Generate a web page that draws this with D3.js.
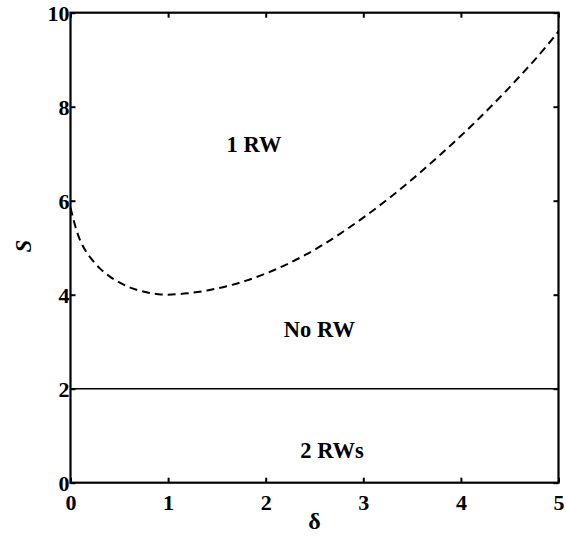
<!DOCTYPE html>
<html><head><meta charset="utf-8">
<script src="https://cdn.jsdelivr.net/npm/d3@7/dist/d3.min.js"></script>
<style>body{margin:0;background:#fff}svg{display:block}
svg text{font-family:"Liberation Serif","DejaVu Serif","Times New Roman",serif !important;}</style>
</head><body>
<script>
const delta = [0, 0.05, 0.1, 0.15, 0.2, 0.3, 0.4, 0.5, 0.6, 0.7, 0.8, 0.9, 1.0, 1.2, 1.4, 1.6, 1.8, 2.0, 2.2, 2.4, 2.6, 2.8, 3.0, 3.2, 3.4, 3.6, 3.8, 4.0, 4.2, 4.4, 4.6, 4.8, 5.0];
const boundaryS = [5.85, 5.45, 5.15, 4.95, 4.8, 4.56, 4.39, 4.26, 4.16, 4.09, 4.04, 4.01, 4.0, 4.03, 4.09, 4.18, 4.3, 4.45, 4.63, 4.84, 5.08, 5.35, 5.64, 5.95, 6.28, 6.63, 7.0, 7.38, 7.78, 8.2, 8.64, 9.1, 9.6];
const lowerDelta = [0, 5];
const lowerS = [2, 2];
const xTicks = [0, 1, 2, 3, 4, 5];
const yTicks = [0, 2, 4, 6, 8, 10];
const regionLabels = ["1 RW", "No RW", "2 RWs"];
const regionX = [1.88, 2.55, 2.68];
const regionY = [7.04, 3.1, 0.52];

const W = 566, H = 537;
const m = {l: 70.5, r: 558.5, t: 12.7, b: 482.7};
const svg = d3.select("body").append("svg").attr("width", W).attr("height", H);
const x = d3.scaleLinear().domain([0, 5]).range([m.l, m.r]);
const y = d3.scaleLinear().domain([0, 10]).range([m.b, m.t]);

// lower boundary line
svg.append("path")
  .datum(lowerDelta.map((d, i) => [d, lowerS[i]]))
  .attr("d", d3.line().x(d => x(d[0])).y(d => y(d[1])))
  .attr("fill", "none").attr("stroke", "#000").attr("stroke-width", 1.6);

// dashed boundary curve
svg.append("path")
  .datum(delta.map((d, i) => [d, boundaryS[i]]))
  .attr("d", d3.line().curve(d3.curveCatmullRom.alpha(0.5)).x(d => x(d[0])).y(d => y(d[1])))
  .attr("fill", "none").attr("stroke", "#000").attr("stroke-width", 2)
  .attr("stroke-dasharray", "8,5");

// axes with inward ticks
const tl = 5;
const gx = svg.append("g").attr("transform", `translate(0,${m.b})`)
  .call(d3.axisBottom(x).tickValues(xTicks).tickSize(-tl).tickPadding(12).tickFormat(d3.format("d")));
const gxt = svg.append("g").attr("transform", `translate(0,${m.t})`)
  .call(d3.axisTop(x).tickValues(xTicks).tickSize(-tl).tickFormat(""));
const gy = svg.append("g").attr("transform", `translate(${m.l},0)`)
  .call(d3.axisLeft(y).tickValues(yTicks).tickSize(-tl).tickPadding(1).tickFormat(d3.format("d")));
const gyr = svg.append("g").attr("transform", `translate(${m.r},0)`)
  .call(d3.axisRight(y).tickValues(yTicks).tickSize(-tl).tickFormat(""));
[gx, gxt, gy, gyr].forEach(g => {
  g.attr("font-family", null);
  g.select(".domain").remove();
  g.selectAll(".tick line").attr("stroke", "#000").attr("stroke-width", 2);
  g.selectAll("text").attr("fill", "#000").attr("font-size", 22).attr("font-weight", "bold");
});
gx.selectAll("text").attr("dy", "0.71em");
gy.selectAll("text").attr("dy", "0.35em");

// frame
svg.append("rect").attr("x", m.l).attr("y", m.t).attr("width", m.r - m.l).attr("height", m.b - m.t)
  .attr("fill", "none").attr("stroke", "#000").attr("stroke-width", 2.2);

// region labels
svg.selectAll("text.region").data(regionLabels).join("text").attr("class", "region")
  .attr("x", (d, i) => x(regionX[i])).attr("y", (d, i) => y(regionY[i]))
  .attr("text-anchor", "middle").attr("font-size", 22.5).attr("font-weight", "bold")
  .text(d => d);

// axis titles
svg.append("text").attr("x", x(2.5)).attr("y", 529).attr("text-anchor", "middle")
  .attr("font-size", 24).attr("font-weight", "bold").text("δ");
svg.append("text").attr("transform", "translate(31,246) rotate(-90)").attr("text-anchor", "middle")
  .attr("font-size", 23).attr("font-style", "italic").attr("font-weight", "bold").text("S");
</script>
</body></html>
